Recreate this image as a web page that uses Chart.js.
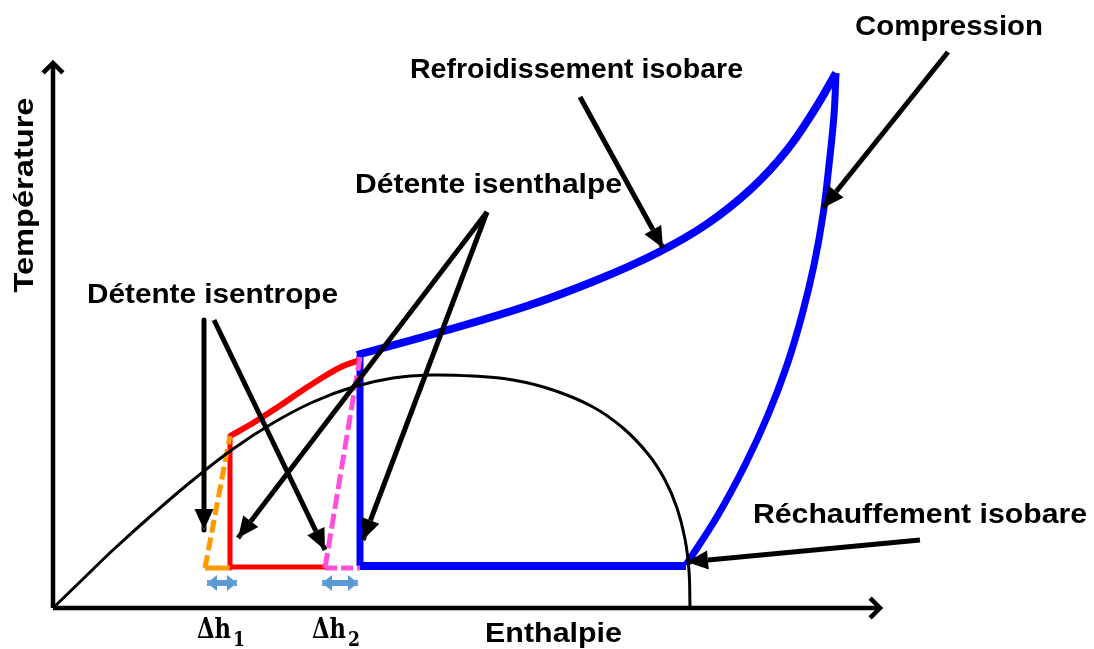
<!DOCTYPE html>
<html>
<head>
<meta charset="utf-8">
<script src="https://cdn.jsdelivr.net/npm/chart.js@4.4.1/dist/chart.umd.min.js"></script>
<style>
  html, body { margin: 0; padding: 0; background: #fff; }
  #wrap { width: 1094px; height: 649px; }
</style>
</head>
<body>
<div id="wrap"><canvas id="c" width="1094" height="649"></canvas></div>
<script>
// points are [enthalpie, temperature], origin at the axes corner
const xAxisLine = [[0, 0], [827, 0]];
const yAxisLine = [[0, 0], [0, 545]];

const dome = [[0, 0], [30, 29], [60, 58], [100, 94], [140, 128], [180, 159], [220, 185], [260, 206],
  [300, 221], [340, 230], [377, 233], [420, 232], [460, 228], [500, 218], [540, 201], [570, 180],
  [595, 154], [612, 128], [624, 100], [632, 69], [636, 37], [637, 0]];

const blueBottom = [[307, 42], [633, 42]];
const blueRise = [[633, 43], [665, 93], [692, 143], [715, 193], [734, 243], [749, 293], [761, 343],
  [770, 393], [776, 443], [781, 493], [783, 535]];
const blueTop = [[304, 253], [384, 275], [474, 302], [544, 328], [604, 355], [654, 384], [699, 420],
  [734, 458], [762, 499], [783, 535]];
const blueDrop = [[307, 42], [307, 253]];

const redCurve = [[177, 172], [200, 185], [225, 201], [250, 218], [272, 232], [290, 242], [307, 248]];
const redDrop = [[177, 172], [177, 40]];
const redBottom = [[177, 41], [272, 41]];

const orangeDash = [[152, 40], [177, 172]];
const orangeBottom = [[152, 40], [177, 40]];
const pinkDash = [[272, 40], [307, 251]];
const pinkBottom = [[272, 40], [307, 40]];

const dh1 = [[154, 25], [184, 25]];
const dh2 = [[269, 25], [305, 25]];

const arrowIsentropeA = [[151, 288], [151, 78]];
const arrowIsentropeB = [[161, 288], [272, 58]];
const arrowIsenthalpeA = [[434, 396], [185, 70]];
const arrowIsenthalpeB = [[434, 396], [310, 68]];
const arrowRefroid = [[527, 511], [610, 360]];
const arrowCompression = [[895, 556], [770, 400]];
const arrowRechauff = [[867, 68], [634, 46]];

const notes = [
  { text: 'Refroidissement isobare', h: 357, t: 530, w: 333 },
  { text: 'Compression', h: 802, t: 573, w: 188 },
  { text: 'Détente isenthalpe', h: 302, t: 415, w: 267 },
  { text: 'Détente isentrope', h: 34, t: 305, w: 251 },
  { text: 'Réchauffement isobare', h: 700, t: 85, w: 334 },
  { text: 'Enthalpie', h: 432, t: -34, w: 137 },
  { text: 'Température', h: -20, t: 413, w: 195, vertical: true }
];
const deltaNotes = [
  { sub: '1', h: 144, t: -30 },
  { sub: '2', h: 259, t: -30 }
];

const toXY = pts => pts.map(([h, t]) => ({ x: h, y: t }));

function line(pts, color, width, extra) {
  return Object.assign({
    data: toXY(pts),
    showLine: true,
    borderColor: color,
    backgroundColor: color,
    borderWidth: width,
    pointRadius: 0,
    pointHoverRadius: 0,
    fill: false,
    tension: 0,
    borderCapStyle: 'butt',
    borderJoinStyle: 'round'
  }, extra || {});
}

const curve = { tension: 0.4 };
const arrow = { head: 'end', headLen: 21, headHalf: 9.5, order: 0 };

const datasets = [
  line(xAxisLine, '#000', 4.5, { head: 'chevron', order: 0 }),
  line(yAxisLine, '#000', 4.5, { head: 'chevron', order: 0 }),
  line(arrowIsentropeA, '#000', 5, arrow),
  line(arrowIsentropeB, '#000', 5, arrow),
  line(arrowIsenthalpeA, '#000', 5, arrow),
  line(arrowIsenthalpeB, '#000', 5, arrow),
  line(arrowRefroid, '#000', 5, arrow),
  line(arrowCompression, '#000', 5, arrow),
  line(arrowRechauff, '#000', 5, arrow),
  line(dome, '#000', 3, Object.assign({ order: 1 }, curve)),
  line(orangeDash, '#FF9900', 5, { borderDash: [13, 5], order: 2 }),
  line(orangeBottom, '#FF9900', 5, { order: 2 }),
  line(pinkDash, '#FF50DA', 5, { borderDash: [15, 5], order: 2 }),
  line(pinkBottom, '#FF50DA', 5, { borderDash: [12, 4], order: 2 }),
  line(redCurve, '#FF0000', 6, Object.assign({ order: 3 }, curve)),
  line(redDrop, '#FF0000', 5, { order: 3 }),
  line(redBottom, '#FF0000', 5, { order: 3 }),
  line(blueTop, '#0000FF', 8, Object.assign({ order: 4 }, curve)),
  line(blueRise, '#0000FF', 7, Object.assign({ order: 4 }, curve)),
  line(blueBottom, '#0000FF', 8, { order: 4 }),
  line(blueDrop, '#0000FF', 7, { order: 4 }),
  line(dh1, '#5B9BD5', 6, { head: 'both', headLen: 10, headHalf: 8, order: 0 }),
  line(dh2, '#5B9BD5', 6, { head: 'both', headLen: 10, headHalf: 8, order: 0 })
];

function headTriangles(meta, ds) {
  const pts = meta.data;
  const n = pts.length;
  const pairs = [[pts[n - 2], pts[n - 1]]];
  if (ds.head === 'both') pairs.push([pts[1], pts[0]]);
  return pairs.map(([a, b]) => {
    const dx = b.x - a.x, dy = b.y - a.y;
    const len = Math.hypot(dx, dy);
    const ux = dx / len, uy = dy / len;
    const bx = b.x - ux * ds.headLen, by = b.y - uy * ds.headLen;
    return [[b.x, b.y],
      [bx - uy * ds.headHalf, by + ux * ds.headHalf],
      [bx + uy * ds.headHalf, by - ux * ds.headHalf]];
  });
}

// cut the shaft under each head, then fill the heads
const arrowHeads = {
  id: 'arrowHeads',
  beforeDatasetDraw(chart, args) {
    const ds = chart.data.datasets[args.index];
    if (!ds.head || ds.head === 'chevron') return;
    const ctx = chart.ctx;
    ctx.save();
    ctx.beginPath();
    ctx.rect(0, 0, chart.width, chart.height);
    headTriangles(args.meta, ds).forEach(tri => {
      ctx.moveTo(tri[0][0], tri[0][1]);
      ctx.lineTo(tri[1][0], tri[1][1]);
      ctx.lineTo(tri[2][0], tri[2][1]);
      ctx.closePath();
    });
    ctx.clip('evenodd');
  },
  afterDatasetDraw(chart, args) {
    const ds = chart.data.datasets[args.index];
    if (!ds.head) return;
    const ctx = chart.ctx;
    if (ds.head === 'chevron') {
      const pts = args.meta.data;
      const a = pts[0], b = pts[pts.length - 1];
      const ang = Math.atan2(b.y - a.y, b.x - a.x);
      const arm = 14;
      ctx.save();
      ctx.strokeStyle = ds.borderColor;
      ctx.lineWidth = ds.borderWidth;
      ctx.lineJoin = 'miter';
      ctx.beginPath();
      ctx.moveTo(b.x - arm * Math.cos(ang - Math.PI / 4), b.y - arm * Math.sin(ang - Math.PI / 4));
      ctx.lineTo(b.x, b.y);
      ctx.lineTo(b.x - arm * Math.cos(ang + Math.PI / 4), b.y - arm * Math.sin(ang + Math.PI / 4));
      ctx.stroke();
      ctx.restore();
      return;
    }
    ctx.restore();
    ctx.save();
    ctx.fillStyle = ds.borderColor;
    headTriangles(args.meta, ds).forEach(tri => {
      ctx.beginPath();
      ctx.moveTo(tri[0][0], tri[0][1]);
      ctx.lineTo(tri[1][0], tri[1][1]);
      ctx.lineTo(tri[2][0], tri[2][1]);
      ctx.closePath();
      ctx.fill();
    });
    ctx.restore();
  }
};

function fitText(ctx, text, x, y, w) {
  const m = ctx.measureText(text).width;
  ctx.save();
  ctx.translate(x, y);
  ctx.scale(w / m, 1);
  ctx.fillText(text, 0, 0);
  ctx.restore();
}

const labelsPlugin = {
  id: 'labels',
  afterDraw(chart) {
    const ctx = chart.ctx;
    const xs = chart.scales.x, ys = chart.scales.y;
    ctx.save();
    ctx.fillStyle = '#000';
    ctx.textBaseline = 'alphabetic';
    ctx.font = 'bold 28px "Liberation Sans", Arial, sans-serif';
    notes.forEach(n => {
      const px = xs.getPixelForValue(n.h), py = ys.getPixelForValue(n.t);
      if (n.vertical) {
        ctx.save();
        ctx.translate(px, py);
        ctx.rotate(-Math.PI / 2);
        ctx.textAlign = 'center';
        fitText(ctx, n.text, 0, 0, n.w);
        ctx.restore();
      } else {
        ctx.textAlign = 'left';
        fitText(ctx, n.text, px, py, n.w);
      }
    });
    ctx.textAlign = 'left';
    deltaNotes.forEach(d => {
      const px = xs.getPixelForValue(d.h), py = ys.getPixelForValue(d.t);
      ctx.font = 'bold 28px "DejaVu Serif", "Liberation Serif", serif';
      fitText(ctx, 'Δh', px, py, 34);
      ctx.font = 'bold 20px "DejaVu Serif", "Liberation Serif", serif';
      fitText(ctx, d.sub, px + 36, py + 8, 12);
    });
    ctx.restore();
  }
};

new Chart(document.getElementById('c').getContext('2d'), {
  type: 'scatter',
  data: { datasets },
  options: {
    responsive: false,
    devicePixelRatio: 1,
    animation: false,
    events: [],
    layout: { padding: 0 },
    scales: {
      x: { type: 'linear', min: -53, max: 1041, display: false },
      y: { type: 'linear', min: -41, max: 608, display: false }
    },
    plugins: {
      legend: { display: false },
      tooltip: { enabled: false }
    }
  },
  plugins: [arrowHeads, labelsPlugin]
});
</script>
</body>
</html>
